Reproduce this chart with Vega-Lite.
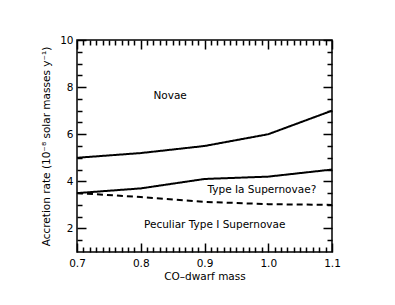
{
  "$schema": "https://vega.github.io/schema/vega-lite/v6.json",
  "width": 255,
  "height": 212,
  "autosize": "none",
  "padding": {"left": 77, "top": 40, "right": 63, "bottom": 53},
  "background": "white",
  "config": {
    "view": {"stroke": "black", "strokeWidth": 1.5},
    "axis": {"grid": false, "domain": false}
  },
  "data": {"values": [
      {"mass": 0.7, "rate": 5.0, "series": "upper", "text": ""},
      {"mass": 0.8, "rate": 5.2, "series": "upper", "text": ""},
      {"mass": 0.9, "rate": 5.5, "series": "upper", "text": ""},
      {"mass": 1.0, "rate": 6.0, "series": "upper", "text": ""},
      {"mass": 1.1, "rate": 7.0, "series": "upper", "text": ""},
      {"mass": 0.7, "rate": 3.5, "series": "middle", "text": ""},
      {"mass": 0.8, "rate": 3.7, "series": "middle", "text": ""},
      {"mass": 0.9, "rate": 4.1, "series": "middle", "text": ""},
      {"mass": 1.0, "rate": 4.2, "series": "middle", "text": ""},
      {"mass": 1.1, "rate": 4.5, "series": "middle", "text": ""},
      {"mass": 0.7, "rate": 3.5, "series": "lower", "text": ""},
      {"mass": 0.8, "rate": 3.33, "series": "lower", "text": ""},
      {"mass": 0.9, "rate": 3.13, "series": "lower", "text": ""},
      {"mass": 1.0, "rate": 3.03, "series": "lower", "text": ""},
      {"mass": 1.1, "rate": 3.0, "series": "lower", "text": ""},
      {"mass": 0.846, "rate": 7.64, "series": "label", "text": "Novae"},
      {"mass": 0.99, "rate": 3.62, "series": "label", "text": "Type Ia Supernovae?"},
      {"mass": 0.916, "rate": 2.15, "series": "label", "text": "Peculiar Type I Supernovae"}
  ]},
  "resolve": {"axis": {"x": "independent", "y": "independent"}},
  "layer": [
    {
      "transform": [{"filter": "datum.series != 'label'"}],
      "mark": {"type": "line", "color": "black", "strokeWidth": 2},
      "encoding": {
        "x": {"field": "mass", "type": "quantitative", "scale": {"domain": [0.7, 1.1], "nice": false, "zero": false},
              "axis": {"orient": "bottom", "title": "CO\u2013dwarf mass", "values": [0.7, 0.8, 0.9, 1.0, 1.1], "format": ".1f", "ticks": false, "labelPadding": 6, "labelFontSize": 10.5, "titleFontSize": 10.5, "titlePadding": 3, "labelFlush": false, "labelFont": "DejaVu Sans", "titleFont": "DejaVu Sans", "labelColor": "black", "titleColor": "black", "titleFontWeight": "normal"}},
        "y": {"field": "rate", "type": "quantitative", "scale": {"domain": [1, 10], "nice": false, "zero": false},
              "axis": {"orient": "left", "title": "Accretion rate (10\u207b\u2078 solar masses y\u207b\u00b9)", "values": [2, 4, 6, 8, 10], "ticks": false, "labelPadding": 4, "labelFontSize": 10.5, "titleFontSize": 10.5, "titlePadding": 8, "labelFont": "DejaVu Sans", "titleFont": "DejaVu Sans", "labelColor": "black", "titleColor": "black", "titleFontWeight": "normal"}},
        "detail": {"field": "series"},
        "strokeDash": {"field": "series", "type": "nominal", "scale": {"domain": ["upper", "middle", "lower"], "range": [[1, 0], [1, 0], [6, 4]]}, "legend": null}
      }
    },
    {
      "transform": [{"filter": "datum.series == 'label'"}],
      "mark": {"type": "text", "color": "black", "fontSize": 10.5, "font": "DejaVu Sans", "align": "center", "baseline": "middle"},
      "encoding": {
        "x": {"field": "mass", "type": "quantitative", "axis": {"orient": "bottom", "title": null, "labels": false, "values": [0.7, 0.8, 0.9, 1.0, 1.1], "tickSize": -9, "tickColor": "black", "tickWidth": 1.5}},
        "y": {"field": "rate", "type": "quantitative", "axis": {"orient": "left", "title": null, "labels": false, "values": [2, 4, 6, 8, 10], "tickSize": -9, "tickColor": "black", "tickWidth": 1.5}},
        "text": {"field": "text"}
      }
    },
    {
      "mark": {"type": "point", "opacity": 0},
      "encoding": {
        "x": {"field": "mass", "type": "quantitative", "axis": {"orient": "bottom", "title": null, "labels": false, "values": [0.71,0.72,0.73,0.74,0.75,0.76,0.77,0.78,0.79,0.81,0.82,0.83,0.84,0.85,0.86,0.87,0.88,0.89,0.91,0.92,0.93,0.94,0.95,0.96,0.97,0.98,0.99,1.01,1.02,1.03,1.04,1.05,1.06,1.07,1.08,1.09], "tickSize": -5, "tickColor": "black", "tickWidth": 1.5}},
        "y": {"field": "rate", "type": "quantitative", "axis": {"orient": "left", "title": null, "labels": false, "values": [1.5,2.5,3,3.5,4.5,5,5.5,6.5,7,7.5,8.5,9,9.5], "tickSize": -5, "tickColor": "black", "tickWidth": 1.5}}
      }
    },
    {
      "mark": {"type": "point", "opacity": 0},
      "encoding": {
        "x": {"field": "mass", "type": "quantitative", "axis": {"orient": "top", "title": null, "labels": false, "values": [0.7, 0.8, 0.9, 1.0, 1.1], "tickSize": -9, "tickColor": "black", "tickWidth": 1.5}},
        "y": {"field": "rate", "type": "quantitative", "axis": {"orient": "right", "title": null, "labels": false, "values": [2, 4, 6, 8, 10], "tickSize": -9, "tickColor": "black", "tickWidth": 1.5}}
      }
    },
    {
      "mark": {"type": "point", "opacity": 0},
      "encoding": {
        "x": {"field": "mass", "type": "quantitative", "axis": {"orient": "top", "title": null, "labels": false, "values": [0.71,0.72,0.73,0.74,0.75,0.76,0.77,0.78,0.79,0.81,0.82,0.83,0.84,0.85,0.86,0.87,0.88,0.89,0.91,0.92,0.93,0.94,0.95,0.96,0.97,0.98,0.99,1.01,1.02,1.03,1.04,1.05,1.06,1.07,1.08,1.09], "tickSize": -5, "tickColor": "black", "tickWidth": 1.5}},
        "y": {"field": "rate", "type": "quantitative", "axis": {"orient": "right", "title": null, "labels": false, "values": [1.5,2.5,3,3.5,4.5,5,5.5,6.5,7,7.5,8.5,9,9.5], "tickSize": -5, "tickColor": "black", "tickWidth": 1.5}}
      }
    }
  ]
}
